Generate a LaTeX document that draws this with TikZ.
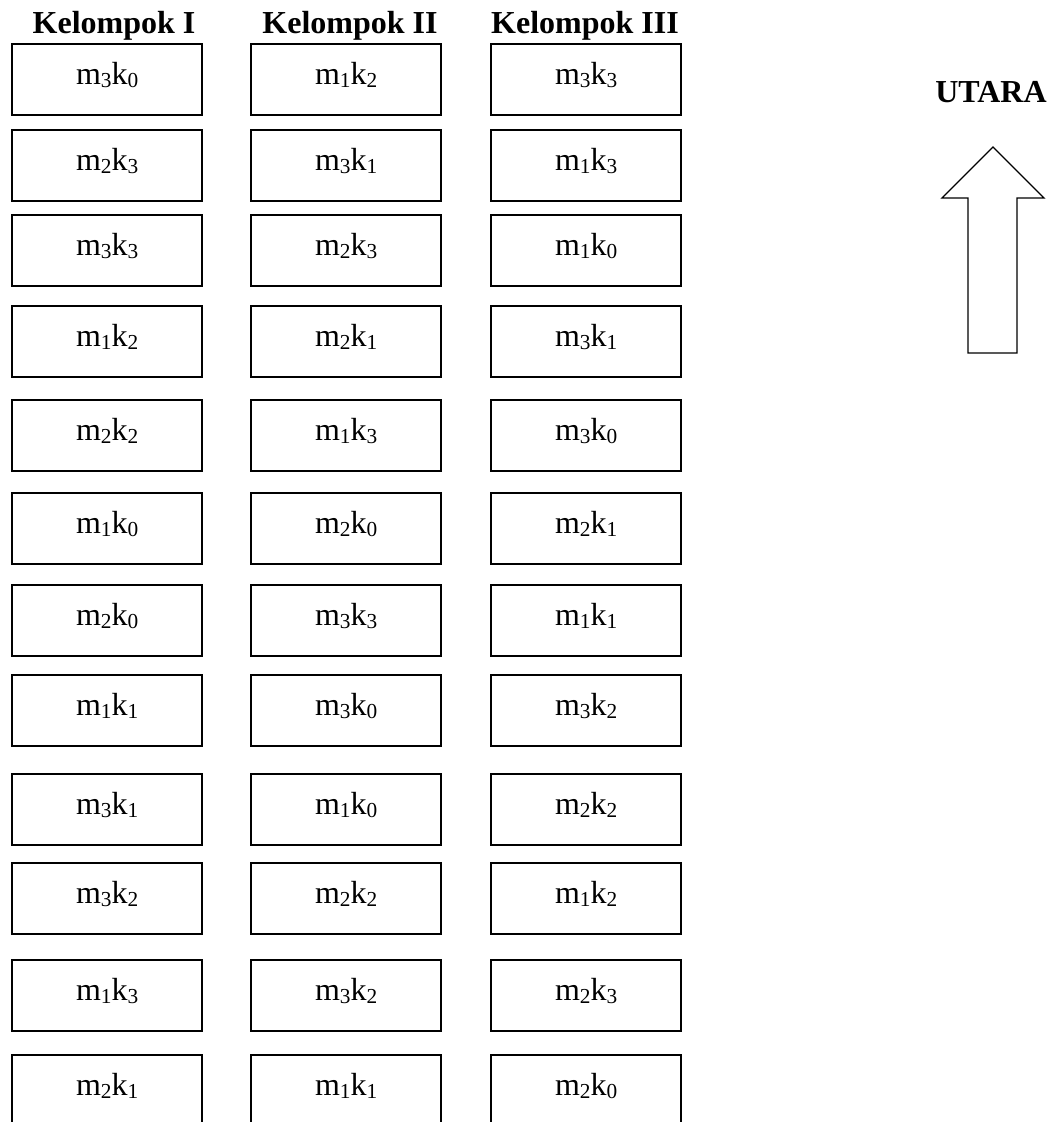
\documentclass[tikz,border=0pt]{standalone}
\usepackage{fontspec}
\setmainfont{Liberation Serif}
\newcommand{\subw}[1]{\raisebox{-1.1pt}{\fontsize{8}{9}\selectfont #1}}
\newcommand{\mk}[2]{m\subw{#1}k\subw{#2}}
\tikzset{
  petak/.style={draw, line width=0.8pt, minimum width=71.3pt, minimum height=26.6pt,
    inner sep=0pt, anchor=north west, text height=5.6pt, text depth=2.2pt,
    font=\fontsize{12}{14}\selectfont},
  judul/.style={anchor=base, inner sep=0pt, font=\fontsize{12}{14}\selectfont\bfseries}
}
\begin{document}
\begin{tikzpicture}[x=0.375pt, y=-0.375pt]
  \clip (0,0) rectangle (1052,1122);
  % judul kelompok
  \node[judul] (kel1) at (114,33) {Kelompok I};
  \node[judul] (kel2) at (350,33) {Kelompok II};
  \node[judul] (kel3) at (585,33) {Kelompok III};
  % petak perlakuan
  \foreach \y/\a/\b/\c [count=\r] in {43/30/12/33, 129/23/31/13, 214/33/23/10,
      305/12/21/31, 399/22/13/30, 492/10/20/21, 584/20/33/11, 674/11/30/32,
      773/31/10/22, 862/32/22/12, 959/13/32/23, 1054/21/11/20}
  {
    \node[petak] (a\r) at (11,\y)  {\expandafter\mk\a};
    \node[petak] (b\r) at (250,\y) {\expandafter\mk\b};
    \node[petak] (c\r) at (490,\y) {\expandafter\mk\c};
  }
  % arah utara
  \node[judul] (utara) at (991,102) {UTARA};
  \draw [line width=0.5pt, line join=miter] (993,147) -- (942,198) -- (968,198) -- (968,353)
    -- (1017,353) -- (1017,198) -- (1044,198) -- cycle;
\end{tikzpicture}
\end{document}
